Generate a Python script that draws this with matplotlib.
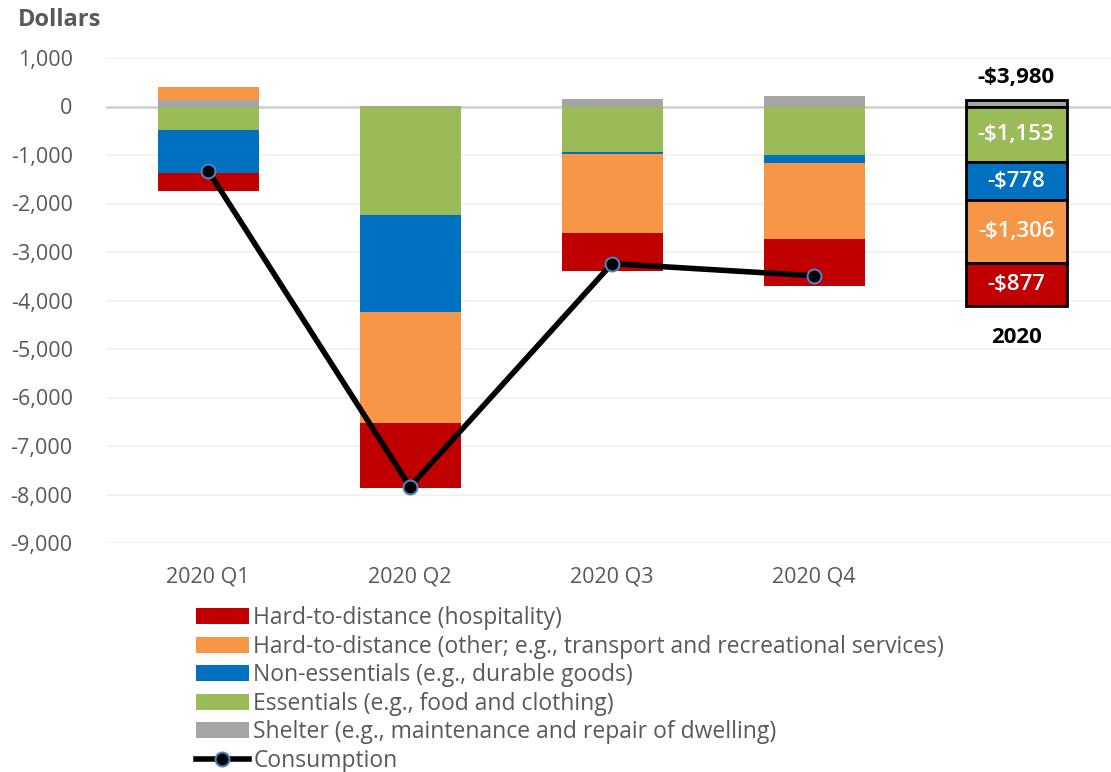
import matplotlib
matplotlib.use("Agg")
import matplotlib.pyplot as plt
from matplotlib.lines import Line2D
from matplotlib.patches import Patch
import numpy as np

plt.rcParams['font.family'] = ['Open Sans', 'DejaVu Sans']

categories = ["2020 Q1", "2020 Q2", "2020 Q3", "2020 Q4", ""]
annual_label = "2020"

# Stacking order (bottom-up in Excel): shelter, essentials, non-essentials, other, hospitality
shelter       = [140,   20,   150,  210,   134]
essentials    = [-490, -2230, -940, -990, -1153]
nonessentials = [-890, -2000, -30,  -180, -778]
other         = [270,  -2290, -1630, -1570, -1306]
hospitality   = [-365, -1340, -790, -970, -877]
consumption   = [-1320, -7840, -3240, -3490]
annual_total  = -3980

series = [
    ("Shelter (e.g., maintenance and repair of dwelling)", shelter, "#A5A5A5"),
    ("Essentials (e.g., food and clothing)", essentials, "#9BBB59"),
    ("Non-essentials (e.g., durable goods)", nonessentials, "#0070C0"),
    ("Hard-to-distance (other; e.g., transport and recreational services)", other, "#F79646"),
    ("Hard-to-distance (hospitality)", hospitality, "#C00000"),
]

fig = plt.figure(figsize=(11.11, 7.72), dpi=100)
ax = fig.add_axes([106/1111, 1-543/772, 1-106/1111, (543-58)/772])

x = np.arange(len(categories))
width = 0.5
pos = np.zeros(len(x))
neg = np.zeros(len(x))
for name, vals, col in series:
    v = np.array(vals, dtype=float)
    bottoms = np.where(v >= 0, pos, neg)
    for i in range(len(x)):
        ec = "black" if i == 4 else "none"
        lw = 2.0 if i == 4 else 0
        ax.bar(x[i], v[i], width, bottom=bottoms[i], color=col,
               edgecolor=ec, linewidth=lw, zorder=3)
        if i == 4 and v[i] < 0:
            ax.text(x[i], bottoms[i] + v[i]/2, "-${:,}".format(int(-v[i])),
                    ha="center", va="center", color="white", fontsize=16,
                    fontweight="semibold", zorder=5)
    pos = np.where(v >= 0, pos + v, pos)
    neg = np.where(v < 0, neg + v, neg)

ax.text(4, 600, "-${:,}".format(-annual_total), ha="center", va="center",
        fontsize=16, fontweight="bold", color="black")
ax.text(4, -4760, annual_label, ha="center", va="center",
        fontsize=16, fontweight="bold", color="black")

ax.plot(x[:4], consumption, color="black", lw=4, marker="o", markersize=10,
        markerfacecolor="black", markeredgecolor="#4F81BD", markeredgewidth=1.5, zorder=6)

ax.set_ylim(-9000, 1000)
ax.set_xlim(-0.505, 4.47)
ax.set_yticks(np.arange(-9000, 1001, 1000))
ax.set_yticklabels(["{:,}".format(t) for t in range(-9000, 1001, 1000)])
ax.set_xticks(x[:4])
ax.set_xticklabels(categories[:4])
ax.tick_params(axis="both", length=0, labelsize=15.5, colors="#595959")
ax.tick_params(axis="x", pad=17)
ax.tick_params(axis="y", pad=24)
for s in ax.spines.values():
    s.set_visible(False)
ax.grid(axis="y", color="#F0F0F0", lw=1.2, zorder=0)
ax.axhline(0, color="#D0D0D0", lw=1.8, zorder=2)

fig.text(18/1111, 1-20/772, "Dollars", fontsize=17, fontweight="bold",
         color="#595959", ha="left", va="center")

handles = [Patch(facecolor=c) for _, _, c in series[::-1]]
labels = [n for n, _, _ in series[::-1]]
handles.append(Line2D([0], [0], color="black", lw=4, marker="o", markersize=10,
                      markerfacecolor="black", markeredgecolor="#4F81BD", markeredgewidth=1.5))
labels.append("Consumption")
leg = fig.legend(handles, labels, loc="upper left", bbox_to_anchor=(196/1111, 1-606/772),
                 frameon=False, fontsize=16.5, handlelength=2.3, handleheight=0.7,
                 handletextpad=0.2, labelspacing=0.2, borderpad=0, borderaxespad=0)
for t in leg.get_texts():
    t.set_color("#595959")

fig.savefig("out.png", dpi=100)
